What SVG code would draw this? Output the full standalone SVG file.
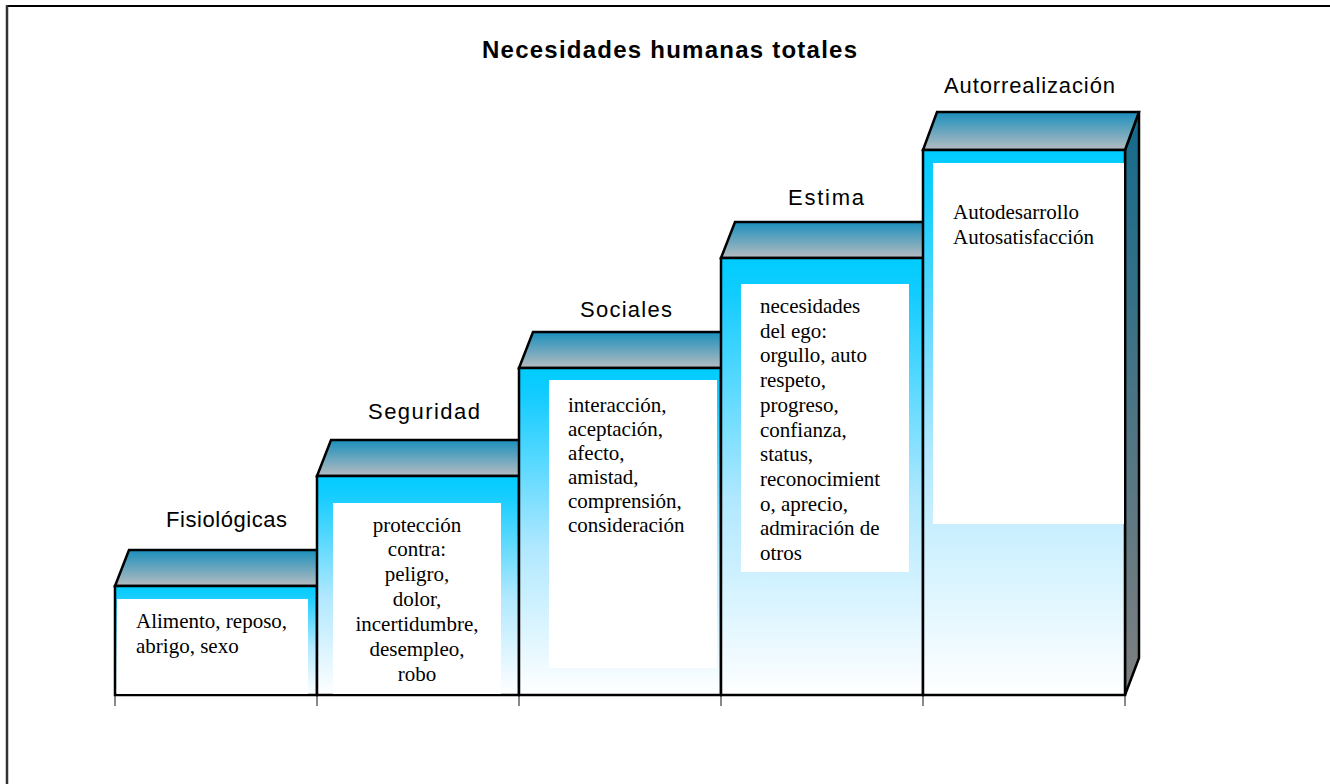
<svg xmlns="http://www.w3.org/2000/svg" width="1330" height="784" viewBox="0 0 1330 784">
<defs>
<linearGradient id="gFront" x1="0" y1="0" x2="0" y2="1">
<stop offset="0" stop-color="#00ccff"/>
<stop offset="0.08" stop-color="#12ccff"/>
<stop offset="0.55" stop-color="#b0e8ff"/>
<stop offset="1" stop-color="#ffffff"/>
</linearGradient>
<linearGradient id="gTop" x1="0" y1="0" x2="0" y2="1">
<stop offset="0" stop-color="#1a8fbc"/>
<stop offset="1" stop-color="#b6bcc0"/>
</linearGradient>
<linearGradient id="gSide" x1="0" y1="0" x2="0" y2="1">
<stop offset="0" stop-color="#146a8c"/>
<stop offset="0.5" stop-color="#4a7484"/>
<stop offset="1" stop-color="#808080"/>
</linearGradient>
</defs>
<style>
.face{stroke:#000;stroke-width:2.5;stroke-linejoin:miter}
.box{fill:#ffffff}
.lbl{font-family:"Liberation Sans",Arial,sans-serif;font-size:22px;fill:#000}
.ttl{font-family:"Liberation Sans",Arial,sans-serif;font-size:24px;font-weight:bold;fill:#000}
.txt{font-family:"Liberation Serif","Times New Roman",serif;font-size:21px;fill:#000}
.tick{stroke:#888;stroke-width:2}
</style>
<rect x="0" y="0" width="1330" height="784" fill="#fff"/>
<g id="frame">
<line x1="7" y1="6" x2="1330" y2="6" stroke="#000" stroke-width="2"/>
<line x1="7" y1="5" x2="7" y2="784" stroke="#333" stroke-width="2.5"/>
</g>
<g id="title"><text class="ttl" x="669.5" y="58" text-anchor="middle" textLength="375" lengthAdjust="spacing">Necesidades humanas totales</text></g>
<g id="axis">
<line class="tick" x1="115" y1="695" x2="115" y2="706"/>
<line class="tick" x1="317" y1="695" x2="317" y2="706"/>
<line class="tick" x1="519" y1="695" x2="519" y2="706"/>
<line class="tick" x1="721" y1="695" x2="721" y2="706"/>
<line class="tick" x1="923" y1="695" x2="923" y2="706"/>
<line class="tick" x1="1125" y1="695" x2="1125" y2="706"/>
</g>
<g id="bar1">
<polygon class="face" fill="url(#gTop)" points="115,586 129,550 331,550 317,586"/>
<rect class="face" fill="url(#gFront)" x="115" y="586" width="202" height="109"/>
<rect class="box" x="117" y="599" width="191" height="95"/>
<text class="txt" x="136"><tspan x="136" y="628">Alimento, reposo,</tspan><tspan x="136" y="653">abrigo, sexo</tspan></text>
<text class="lbl" x="166" y="527" textLength="121" lengthAdjust="spacing">Fisiológicas</text>
</g>
<g id="bar2">
<polygon class="face" fill="url(#gTop)" points="317,476 331,440 533,440 519,476"/>
<rect class="face" fill="url(#gFront)" x="317" y="476" width="202" height="219"/>
<rect class="box" x="333" y="503" width="168" height="191"/>
<text class="txt" text-anchor="middle"><tspan x="417" y="532">protección</tspan><tspan x="417" y="556">contra:</tspan><tspan x="417" y="581">peligro,</tspan><tspan x="417" y="606">dolor,</tspan><tspan x="417" y="631">incertidumbre,</tspan><tspan x="417" y="656">desempleo,</tspan><tspan x="417" y="681">robo</tspan></text>
<text class="lbl" x="368" y="419" textLength="112" lengthAdjust="spacing">Seguridad</text>
</g>
<g id="bar3">
<polygon class="face" fill="url(#gTop)" points="519,368 533,332 735,332 721,368"/>
<rect class="face" fill="url(#gFront)" x="519" y="368" width="202" height="327"/>
<rect class="box" x="549" y="380" width="168" height="288"/>
<text class="txt"><tspan x="568" y="412">interacción,</tspan><tspan x="568" y="436">aceptación,</tspan><tspan x="568" y="460">afecto,</tspan><tspan x="568" y="484">amistad,</tspan><tspan x="568" y="508">comprensión,</tspan><tspan x="568" y="532">consideración</tspan></text>
<text class="lbl" x="580" y="317" textLength="92" lengthAdjust="spacing">Sociales</text>
</g>
<g id="bar4">
<polygon class="face" fill="url(#gTop)" points="721,258 735,222 937,222 923,258"/>
<rect class="face" fill="url(#gFront)" x="721" y="258" width="202" height="437"/>
<rect class="box" x="741" y="284" width="168" height="288"/>
<text class="txt"><tspan x="760" y="313">necesidades</tspan><tspan x="760" y="338">del ego:</tspan><tspan x="760" y="362">orgullo, auto</tspan><tspan x="760" y="387">respeto,</tspan><tspan x="760" y="412">progreso,</tspan><tspan x="760" y="437">confianza,</tspan><tspan x="760" y="461">status,</tspan><tspan x="760" y="486">reconocimient</tspan><tspan x="760" y="511">o, aprecio,</tspan><tspan x="760" y="535">admiración de</tspan><tspan x="760" y="560">otros</tspan></text>
<text class="lbl" x="788" y="205" textLength="76" lengthAdjust="spacing">Estima</text>
</g>
<g id="bar5">
<polygon class="face" fill="url(#gSide)" points="1125,150 1139,112 1139,658 1125,695"/>
<polygon class="face" fill="url(#gTop)" points="923,150 937,112 1139,112 1125,150"/>
<rect class="face" fill="url(#gFront)" x="923" y="150" width="202" height="545"/>
<rect class="box" x="933" y="163" width="191" height="361"/>
<text class="txt"><tspan x="953" y="219">Autodesarrollo</tspan><tspan x="953" y="244">Autosatisfacción</tspan></text>
<text class="lbl" x="944" y="93" textLength="171" lengthAdjust="spacing">Autorrealización</text>
</g>
</svg>
